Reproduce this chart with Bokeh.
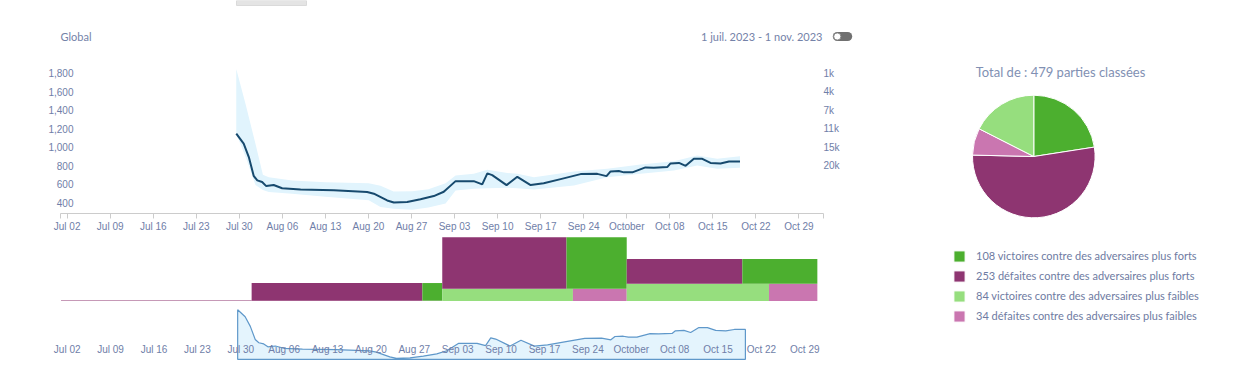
import math
import pandas as pd
from bokeh.plotting import figure
from bokeh.layouts import column, row
from bokeh.models import Range1d, FixedTicker, Legend, LegendItem, LinearAxis
from bokeh.core.properties import value
from bokeh.embed import file_html
from bokeh.resources import INLINE

# ---------------- data ----------------
line_dates = ["2023-07-29 12:00", "2023-07-30 17:00", "2023-07-31 13:00", "2023-08-01 08:00",
              "2023-08-01 22:00", "2023-08-02 17:00", "2023-08-03 09:00", "2023-08-04 14:00",
              "2023-08-05 23:00", "2023-08-08 23:00", "2023-08-14 09:00", "2023-08-19 19:00",
              "2023-08-20 21:00", "2023-08-23 01:00", "2023-08-24 03:00", "2023-08-26 07:00",
              "2023-08-28 11:00", "2023-08-30 15:00", "2023-09-01 06:00", "2023-09-03 04:00",
              "2023-09-06 03:00", "2023-09-07 12:00", "2023-09-08 08:00", "2023-09-09 03:00",
              "2023-09-11 11:00", "2023-09-13 05:00", "2023-09-15 09:00", "2023-09-17 12:00",
              "2023-09-20 06:00", "2023-09-23 12:00", "2023-09-26 05:00", "2023-09-27 17:00",
              "2023-09-28 09:00", "2023-09-29 17:00", "2023-09-30 13:00", "2023-10-01 22:00",
              "2023-10-04 01:00", "2023-10-05 10:00", "2023-10-07 14:00", "2023-10-08 03:00",
              "2023-10-09 12:00", "2023-10-10 14:00", "2023-10-11 22:00", "2023-10-13 07:00",
              "2023-10-14 15:00", "2023-10-16 06:00", "2023-10-17 15:00", "2023-10-19 10:00"]
line_values = [1148, 1040, 893, 690, 640, 622, 578, 590, 555, 542, 533, 515,
               496, 422, 400, 406, 435, 470, 517, 632, 632, 597, 716, 697,
               589, 679, 589, 608, 654, 708, 711, 686, 737, 741, 727, 727,
               781, 776, 784, 824, 830, 798, 874, 874, 830, 824, 845, 845]

band_dates = ["2023-07-29 12:00", "2023-07-31 00:00", "2023-08-01 15:00", "2023-08-02 20:00",
              "2023-08-03 19:00", "2023-08-07 14:00", "2023-08-13 00:00", "2023-08-20 01:00",
              "2023-08-21 23:00", "2023-08-24 02:00", "2023-08-27 03:00", "2023-08-29 18:00",
              "2023-09-01 13:00", "2023-09-03 04:00", "2023-09-06 03:00", "2023-09-08 08:00",
              "2023-09-11 14:00", "2023-09-13 05:00", "2023-09-15 22:00", "2023-09-22 10:00",
              "2023-09-27 20:00", "2023-10-03 06:00", "2023-10-08 16:00", "2023-10-12 11:00",
              "2023-10-15 17:00", "2023-10-19 10:00"]
band_upper = [1850, 1471, 1037, 700, 675, 639, 621, 610, 582, 520, 522, 545,
              610, 693, 712, 755, 720, 712, 675, 737, 766, 813, 848, 910, 874, 903]
band_lower = [1146, 900, 590, 535, 515, 495, 462, 425, 352, 332, 322, 345,
              390, 531, 549, 555, 560, 555, 540, 585, 675, 712, 748, 802, 766, 777]

x_start = "2023-06-30 22:00"
x_end = "2023-11-02 00:00"
nav_start = "2023-06-30 22:00"
nav_end = "2023-11-01 00:25"

tick_dates = ["2023-07-02", "2023-07-09", "2023-07-16", "2023-07-23", "2023-07-30",
              "2023-08-06", "2023-08-13", "2023-08-20", "2023-08-27", "2023-09-03",
              "2023-09-10", "2023-09-17", "2023-09-24", "2023-10-01", "2023-10-08",
              "2023-10-15", "2023-10-22", "2023-10-29"]
tick_labels = ["Jul 02", "Jul 09", "Jul 16", "Jul 23", "Jul 30", "Aug 06", "Aug 13",
               "Aug 20", "Aug 27", "Sep 03", "Sep 10", "Sep 17", "Sep 24", "October",
               "Oct 08", "Oct 15", "Oct 22", "Oct 29"]

left_ticks = [400, 600, 800, 1000, 1200, 1400, 1600, 1800]
left_tick_labels = ["400", "600", "800", "1,000", "1,200", "1,400", "1,600", "1,800"]
right_ticks = [800, 1000, 1200, 1400, 1600, 1800]
right_tick_labels = ["20k", "15k", "11k", "7k", "4k", "1k"]

month_edges = ["2023-07-01", "2023-08-01", "2023-09-01", "2023-10-01", "2023-11-01"]
wins_strong_m = [0, 7, 64, 37]
losses_strong_m = [4, 60, 132, 57]
wins_weak_m = [0, 0, 34, 50]
losses_weak_m = [0, 3, 14, 17]

pie_labels = ["victoires contre des adversaires plus forts",
              "défaites contre des adversaires plus forts",
              "victoires contre des adversaires plus faibles",
              "défaites contre des adversaires plus faibles"]
pie_counts = [108, 253, 84, 34]
pie_colors = ["#4caf2f", "#8e3571", "#96de7e", "#ca76b0"]
pie_order = [0, 1, 3, 2]  # clockwise from 12 o'clock

header_left = "Global"
header_right = "1 juil. 2023 - 1 nov. 2023"

# ---------------- styles ----------------
AX_FONT = "Liberation Sans"
AX_COLOR = "#6f7ea8"
UI_FONT = "Lato"
UI_COLOR = "#7482a8"
C_WS, C_LS, C_WW, C_LW = pie_colors


def ms(s):
    return pd.Timestamp(s).value / 1e6


def make_overrides(ticks, labels):
    d = {}
    for t, lab in zip(ticks, labels):
        d[t] = lab
        d[str(int(t))] = lab
    return d


def style_axis(ax):
    ax.major_label_text_font = AX_FONT
    ax.major_label_text_font_size = "10px"
    ax.major_label_text_color = AX_COLOR
    ax.minor_tick_line_color = None


tick_ms = [ms(d) for d in tick_dates]
x0, x1 = ms(x_start), ms(x_end)
overrides = make_overrides(tick_ms, tick_labels)

line_x = pd.to_datetime(line_dates)
band_x = pd.to_datetime(band_dates)

LEFT_W = 878

# ---------------- header ----------------
hdr = figure(width=LEFT_W, height=53, x_range=Range1d(0, LEFT_W), y_range=Range1d(0, 53),
             x_axis_location=None, y_axis_location=None, toolbar_location=None,
             output_backend="svg", min_border=0, outline_line_color=None, frame_align=False)
hdr.grid.visible = False
hdr.quad(left=[236], right=[306], bottom=[48], top=[53], fill_color="#e4e4e4",
         line_color="#dadada", line_width=1)
hdr.text(x=[60], y=[17], text=[header_left], text_align="left", text_baseline="middle",
         text_font=value(UI_FONT), text_font_size="11px", text_color=UI_COLOR)
hdr.text(x=[822], y=[17], text=[header_right], text_align="right", text_baseline="middle",
         text_font=value(UI_FONT), text_font_size="11px", text_color=UI_COLOR)
hdr.rect(x=[842], y=[17], width=10.4, height=9, fill_color="#707070", line_color=None)
hdr.circle(x=[836.8, 847.2], y=[17, 17], radius=4.5, fill_color="#707070", line_color=None)
hdr.circle(x=[836.8], y=[17], radius=3.6, fill_color="white", line_color="#8a8a8a", line_width=1)

# ---------------- main chart ----------------
xr = Range1d(x0, x1)
main = figure(x_axis_type="datetime", x_range=xr, y_range=Range1d(280.7, 1908.5),
              frame_width=763, frame_height=150, min_border_left=60, min_border_right=55,
              min_border_top=10, min_border_bottom=20, y_axis_location="right",
              toolbar_location=None, output_backend="svg", outline_line_color=None,
              frame_align=False)
main.grid.visible = False
main.varea(x=band_x, y1=band_lower, y2=band_upper, fill_color="#e1f4fd")
main.line(line_x, line_values, line_color="#174a6e", line_width=2)

xa = main.xaxis[0]
xa.ticker = FixedTicker(ticks=tick_ms + [x0, x1])
ov = dict(overrides)
ov.update(make_overrides([x0, x1], ["", ""]))
xa.major_label_overrides = ov
xa.axis_line_color = "#cccccc"
xa.major_tick_line_color = "#cccccc"
xa.major_tick_in = 0
xa.major_tick_out = 5
xa.major_label_standoff = 2
style_axis(xa)

ya = main.yaxis[0]
ya.ticker = FixedTicker(ticks=right_ticks)
ya.major_label_overrides = make_overrides(right_ticks, right_tick_labels)
ya.axis_line_color = None
ya.major_tick_line_color = None
ya.major_tick_in = 0
ya.major_tick_out = 0
ya.major_label_standoff = 0
style_axis(ya)

la = LinearAxis(ticker=FixedTicker(ticks=left_ticks),
                major_label_overrides=make_overrides(left_ticks, left_tick_labels))
la.axis_line_color = None
la.major_tick_line_color = None
la.major_tick_in = 0
la.major_tick_out = 0
la.major_label_standoff = -13
style_axis(la)
main.add_layout(la, "left")

# ---------------- monthly mosaic bars ----------------
bars = figure(x_axis_type="datetime", x_range=xr, y_range=Range1d(0, 254),
              frame_width=763, frame_height=67, min_border_left=60, min_border_right=55,
              min_border_top=0, min_border_bottom=0, x_axis_location=None,
              y_axis_location=None, toolbar_location=None, output_backend="svg",
              outline_line_color=None, frame_align=False)
bars.grid.visible = False
edges = [ms(d) for d in month_edges]
q = {"left": [], "right": [], "bottom": [], "top": [], "color": []}


def add_q(l, r, b, t, c):
    if r > l and t > b:
        q["left"].append(l); q["right"].append(r)
        q["bottom"].append(b); q["top"].append(t); q["color"].append(c)


for i in range(len(wins_strong_m)):
    s, e = edges[i], edges[i + 1]
    dur = e - s
    weak = wins_weak_m[i] + losses_weak_m[i]
    strong = wins_strong_m[i] + losses_strong_m[i]
    if weak > 0:
        split = s + dur * wins_weak_m[i] / weak
        add_q(s, split, 0, weak, C_WW)
        add_q(split, e, 0, weak, C_LW)
    if strong > 0:
        split = s + dur * losses_strong_m[i] / strong
        add_q(s, split, weak, weak + strong, C_LS)
        add_q(split, e, weak, weak + strong, C_WS)
bars.quad(left="left", right="right", bottom="bottom", top="top", fill_color="color",
          line_color=None, source=q)

# ---------------- navigator ----------------
nav = figure(x_axis_type="datetime", x_range=Range1d(ms(nav_start), ms(nav_end)),
             y_range=Range1d(367, 1245),
             frame_width=763, frame_height=57, min_border_left=60, min_border_right=55,
             min_border_top=2, min_border_bottom=6, y_axis_location=None,
             toolbar_location=None, output_backend="svg", outline_line_color=None,
             frame_align=False)
nav.grid.visible = False
base = min(line_values) - 15
lx = [ms(d) for d in line_dates]
nav.patch(x=lx + [lx[-1], lx[0]], y=list(line_values) + [base, base],
          fill_color="#e4f4fd", line_color="#5f98ca", line_width=1.2)
na = nav.xaxis[0]
na.ticker = FixedTicker(ticks=tick_ms)
na.major_label_overrides = overrides
na.axis_line_color = None
na.major_tick_line_color = None
na.major_tick_out = 0
na.major_tick_in = 0
na.major_label_standoff = -17
style_axis(na)

# ---------------- pie ----------------
PIE_W, PIE_H = 365, 365
pie = figure(width=PIE_W, height=PIE_H, x_range=Range1d(-155.3, 209.7),
             y_range=Range1d(-209, 156), x_axis_location=None, y_axis_location=None,
             toolbar_location=None, output_backend="svg", min_border=0,
             outline_line_color=None, frame_align=False)
pie.grid.visible = False
total = sum(pie_counts)
starts, ends, cols = [], [], []
acc = 0
for k in pie_order:
    a0 = math.pi / 2 - 2 * math.pi * acc / total
    acc += pie_counts[k]
    a1 = math.pi / 2 - 2 * math.pi * acc / total
    starts.append(a0); ends.append(a1); cols.append(pie_colors[k])
wr = pie.wedge(x=[0] * 4, y=[0] * 4, radius=61.3, start_angle=starts, end_angle=ends,
               direction="clock", fill_color=cols, line_color="white", line_width=1)
pie.text(x=[26.7], y=[85], text=[f"Total de : {total} parties classées"],
         text_align="center", text_baseline="middle", text_font=value(UI_FONT),
         text_font_size="13px", text_color="#8190b3")

items = []
for k in range(4):
    idx = pie_order.index(k)
    items.append(LegendItem(label=f"{pie_counts[k]} {pie_labels[k]}", renderers=[wr], index=idx))
leg = Legend(items=items, location=(74, 42.5), orientation="vertical", glyph_width=14,
             glyph_height=14, label_height=14, spacing=6, label_standoff=10, padding=0,
             margin=0, border_line_color=None, background_fill_alpha=0,
             label_text_font=UI_FONT, label_text_font_size="11px",
             label_text_color="#6e7ba2")
pie.add_layout(leg)

layout = row(column(hdr, main, bars, nav), pie)
open("out.html", "w").write(file_html(layout, INLINE))
